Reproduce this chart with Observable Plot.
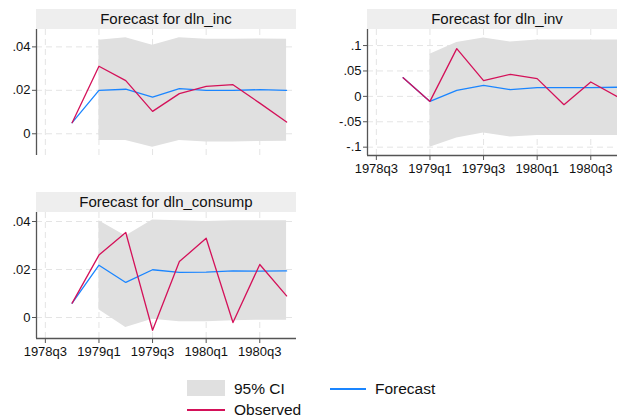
<!DOCTYPE html>
<html><head><meta charset="utf-8">
<script src="https://cdn.jsdelivr.net/npm/d3@7"></script>
<script src="https://cdn.jsdelivr.net/npm/@observablehq/plot@0.6"></script>
<style>
body{margin:0;background:#fff;overflow:hidden;font-family:"Liberation Sans",Arial,sans-serif;}
#root{position:relative;width:617px;height:417px;overflow:hidden;background:#fff;}
.panel{position:absolute;width:300px;}
.panel svg{overflow:visible;max-width:none !important;}
.title{position:absolute;background:#eeeeee;color:#111;font-size:15px;text-align:center;line-height:20px;height:20px;white-space:nowrap;}
.leg{position:absolute;font-size:15.5px;color:#111;line-height:14px;white-space:nowrap;}
.sw{position:absolute;}
</style>
</head><body>
<div id="root"></div>
<script>
// quarter index: 0 = 1978q3
const quarters = [1, 2, 3, 4, 5, 6, 7, 8, 9];          // 1978q4 .. 1980q4
const ciQuarters = [2, 3, 4, 5, 6, 7, 8, 9];           // 1979q1 .. 1980q4
const xTickPos = [0, 2, 4, 6, 8];
const xTickLabels = ["1978q3", "1979q1", "1979q3", "1980q1", "1980q3"];

// dln_inc
const incObserved = [0.0051, 0.0311, 0.0245, 0.0103, 0.0185, 0.0218, 0.0226, 0.0141, 0.0054];
const incForecast = [0.0051, 0.0200, 0.0205, 0.0169, 0.0208, 0.0200, 0.0200, 0.0203, 0.0200];
const incUpper = [0.0431, 0.0442, 0.0408, 0.0442, 0.0435, 0.0435, 0.0436, 0.0435];
const incLower = [-0.0031, -0.0031, -0.0062, -0.0031, -0.0038, -0.0038, -0.0035, -0.0034];
const incYTicks = [0, 0.02, 0.04];
const incYLabels = ["0", ".02", ".04"];

// dln_inv
const invObserved = [0.0368, -0.0099, 0.0940, 0.0310, 0.0434, 0.0349, -0.0164, 0.0283, -0.0010];
const invForecast = [0.0368, -0.0099, 0.0118, 0.0217, 0.0132, 0.0171, 0.0171, 0.0171, 0.0180];
const invUpper = [0.083, 0.106, 0.115, 0.107, 0.111, 0.111, 0.111, 0.111];
const invLower = [-0.100, -0.082, -0.072, -0.080, -0.077, -0.077, -0.077, -0.077];
const invYTicks = [-0.1, -0.05, 0, 0.05, 0.1];
const invYLabels = ["-.1", "-.05", "0", ".05", ".1"];

// dln_consump
const conObserved = [0.0060, 0.0260, 0.0354, -0.0053, 0.0233, 0.0330, -0.0021, 0.0221, 0.0090];
const conForecast = [0.0060, 0.0218, 0.0146, 0.0199, 0.0188, 0.0189, 0.0194, 0.0193, 0.0194];
const conUpper = [0.0403, 0.0340, 0.0406, 0.0403, 0.0400, 0.0403, 0.0403, 0.0403];
const conLower = [0.0032, -0.0042, -0.0007, -0.0018, -0.0018, -0.0014, -0.0011, -0.0011];
const conYTicks = [0, 0.02, 0.04];
const conYLabels = ["0", ".02", ".04"];

const titles = ["Forecast for dln_inc", "Forecast for dln_inv", "Forecast for dln_consump"];
const legendLabels = ["95% CI", "Forecast", "Observed"];

const colors = {ci: "#e0e0e0", fc: "#1a85ff", obs: "#d41159", grid: "#e4e4e4", axis: "#555555", text: "#111111", strip: "#eeeeee"};

const xDomain = [-0.33, 9.37];
const root = document.getElementById("root");

function panel({left, top, obs, fc, up, lo, yDomain, yTicks, yLabels, showX, title}) {
  const plotH = 126;
  const mb = showX ? 26 : 0;
  const obsRows = quarters.map((q, i) => ({q, v: obs[i]}));
  const fcRows = quarters.map((q, i) => ({q, v: fc[i]}));
  const ciRows = ciQuarters.map((q, i) => ({q, lo: lo[i], hi: up[i]}));
  const yFmt = d => yLabels[yTicks.findIndex(t => Math.abs(t - d) < 1e-9)];
  const xFmt = d => xTickLabels[xTickPos.indexOf(d)];
  const marks = [
    Plot.gridY(yTicks, {stroke: colors.grid, strokeOpacity: 1, strokeDasharray: "6,4"}),
    Plot.gridX(xTickPos, {stroke: colors.grid, strokeOpacity: 1, strokeDasharray: "6,4"}),
    Plot.areaY(ciRows, {x: "q", y1: "lo", y2: "hi", fill: colors.ci}),
    Plot.line(fcRows, {x: "q", y: "v", stroke: colors.fc, strokeWidth: 1.3}),
    Plot.line(obsRows, {x: "q", y: "v", stroke: colors.obs, strokeWidth: 1.3}),
    Plot.axisY(yTicks, {label: null, tickSize: 4, tickPadding: 2, tickFormat: yFmt, fontSize: 13, stroke: colors.axis, fill: colors.text}),
    Plot.ruleX([xDomain[0]], {stroke: colors.axis, strokeWidth: 1.3})
  ];
  if (showX) {
    marks.push(Plot.axisX(xTickPos, {label: null, tickSize: 5, tickPadding: 3, tickFormat: xFmt, fontSize: 13, stroke: colors.axis, fill: colors.text}));
    marks.push(Plot.ruleY([yDomain[0]], {stroke: colors.axis, strokeWidth: 1.3}));
  }
  const chart = Plot.plot({
    width: 300, height: plotH + mb,
    marginLeft: 36, marginRight: 4, marginTop: 0, marginBottom: mb,
    style: {fontFamily: '"Liberation Sans", Arial, sans-serif', fontSize: "13px", background: "transparent", overflow: "visible", color: colors.text, maxWidth: "none"},
    x: {domain: xDomain, axis: null},
    y: {domain: yDomain, axis: null},
    marks
  });
  const wrap = document.createElement("div");
  wrap.className = "panel";
  wrap.style.left = (left - 36) + "px";
  wrap.style.top = top + "px";
  wrap.appendChild(chart);
  root.appendChild(wrap);
  const t = document.createElement("div");
  t.className = "title";
  t.style.left = left + "px";
  t.style.top = (top - 20) + "px";
  t.style.width = "260px";
  t.textContent = title;
  root.appendChild(t);
}

panel({left: 36, top: 29, obs: incObserved, fc: incForecast, up: incUpper, lo: incLower,
  yDomain: [-0.010, 0.048], yTicks: incYTicks, yLabels: incYLabels, showX: false, title: titles[0]});
panel({left: 367, top: 29, obs: invObserved, fc: invForecast, up: invUpper, lo: invLower,
  yDomain: [-0.1164, 0.1316], yTicks: invYTicks, yLabels: invYLabels, showX: true, title: titles[1]});
panel({left: 36, top: 212, obs: conObserved, fc: conForecast, up: conUpper, lo: conLower,
  yDomain: [-0.00875, 0.04375], yTicks: conYTicks, yLabels: conYLabels, showX: true, title: titles[2]});

// legend
function legendItem(kind, x, y, label) {
  const sw = document.createElement("div");
  sw.className = "sw";
  if (kind === "ci") {
    sw.style.cssText = `left:${x}px;top:${y - 8}px;width:38px;height:16px;background:${colors.ci};position:absolute;`;
  } else {
    sw.style.cssText = `left:${x}px;top:${y}px;width:${kind === "fc" ? 36 : 38}px;height:1.5px;background:${kind === "fc" ? colors.fc : colors.obs};position:absolute;`;
  }
  root.appendChild(sw);
  const l = document.createElement("div");
  l.className = "leg";
  l.style.left = (x + (kind === "fc" ? 45 : 47)) + "px";
  l.style.top = (y - 6) + "px";
  l.textContent = label;
  root.appendChild(l);
}
legendItem("ci", 187, 388, legendLabels[0]);
legendItem("fc", 330, 388, legendLabels[1]);
legendItem("obs", 187, 409, legendLabels[2]);
</script>
</body></html>
